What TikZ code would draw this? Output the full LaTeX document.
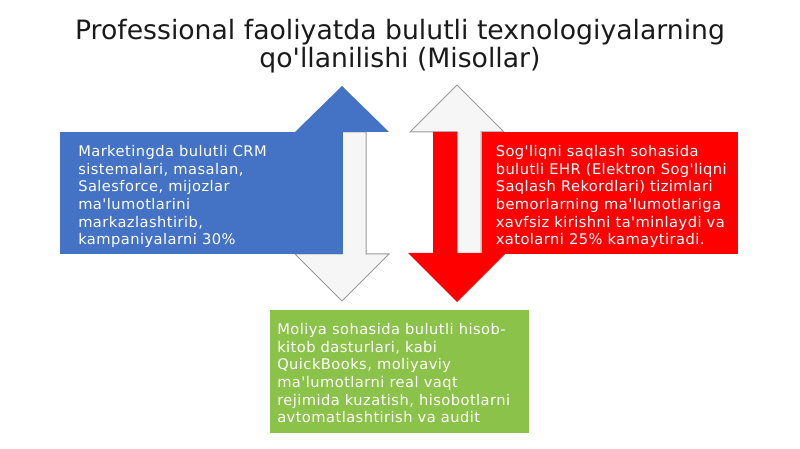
\documentclass[tikz,border=0pt]{standalone}
\usepackage{fontspec}
\setmainfont[Ligatures=TeXOff]{DejaVu Sans}
\newfontfamily\boxfont[LetterSpace=3, Ligatures=TeXOff]{DejaVu Sans}
\usepackage{tikz}
\usetikzlibrary{positioning}

\definecolor{crmBlue}{HTML}{4472C4}
\definecolor{ehrRed}{HTML}{FF0000}
\definecolor{finGreen}{HTML}{8BC34A}
\definecolor{arrowGray}{HTML}{9A9A9A}
\definecolor{arrowWhite}{HTML}{F6F6F6}
\definecolor{titleInk}{HTML}{1A1A1A}

\begin{document}
\begin{tikzpicture}[x=0.75pt, y=-0.75pt,
                panel/.style={rectangle, draw=none, inner sep=0pt, anchor=north west}, % coloured boxes
                paneltext/.style={inner sep=0pt, align=left, text=white, font=\boxfont\fontsize{11}{13.2}\selectfont}, % text in the boxes
                lightarrow/.style={fill=arrowWhite, draw=arrowGray, line width=0.75pt, line join=miter} % pale arrows
                ]
                \useasboundingbox (0,0) rectangle (800,449);

                \node[font=\fontsize{20}{21.5}\selectfont, align=center, text=titleInk] (title) at (400,46)
                    {Professional faoliyatda bulutli texnologiyalarning\\qo'llanilishi (Misollar)};

                % left pair of arrows
                \draw[lightarrow] (342,132) -- (366,132) -- (366,254) -- (389,254) -- (342,301) -- (295,254) -- (342,254) -- cycle;
                \fill[crmBlue] (342,86) -- (389,132) -- (342,132) -- (342,254) -- (318,254) -- (318,132) -- (295,132) -- cycle;

                % right pair of arrows
                \draw[lightarrow] (457,85) -- (504,132) -- (481,132) -- (481,254) -- (457,254) -- (457,132) -- (410,132) -- cycle;
                \fill[ehrRed] (433,132) -- (457,132) -- (457,253) -- (506,253) -- (457,302) -- (408,253) -- (433,253) -- cycle;

                \node[panel, fill=crmBlue, minimum width=212.25pt, minimum height=91.5pt] (crmBox) at (60,132) {};
                \node[panel, fill=ehrRed, minimum width=192pt, minimum height=91.5pt] (ehrBox) at (481.5,132) {};
                \node[panel, fill=finGreen, minimum width=194.25pt, minimum height=92.25pt] (finBox) at (270,310) {};

                \node[paneltext, below right=10pt and 13.5pt of crmBox.north west] (crmText)
                    {Marketingda bulutli CRM\\sistemalari, masalan,\\Salesforce, mijozlar\\ma'lumotlarini\\markazlashtirib,\\kampaniyalarni 30\%};
                \node[paneltext, below right=10pt and 10.5pt of ehrBox.north west] (ehrText)
                    {Sog'liqni saqlash sohasida\\bulutli EHR (Elektron Sog'liqni\\Saqlash Rekordlari) tizimlari\\bemorlarning ma'lumotlariga\\xavfsiz kirishni ta'minlaydi va\\xatolarni 25\% kamaytiradi.};
                \node[paneltext, below right=10pt and 5.25pt of finBox.north west] (finText)
                    {Moliya sohasida bulutli hisob-\\kitob dasturlari, kabi\\QuickBooks, moliyaviy\\ma'lumotlarni real vaqt\\rejimida kuzatish, hisobotlarni\\avtomatlashtirish va audit};
            \end{tikzpicture}
\end{document}
